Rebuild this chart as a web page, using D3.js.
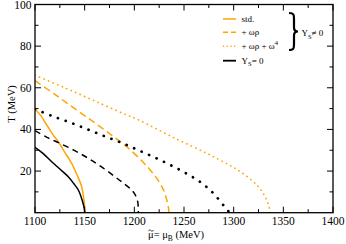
<!DOCTYPE html>
<html><head><meta charset="utf-8">
<script src="https://cdn.jsdelivr.net/npm/d3@7"></script>
<style>body{margin:0;background:#fff}svg{display:block}</style>
</head><body>
<script>
const xTicks = [1100,1150,1200,1250,1300,1350,1400];
const yTicks = [20,40,60,80,100];
const stdYs = [[1100,49.7],[1106,46.5],[1112,42],[1118,37.5],[1123.5,34.1],[1130,29],[1136.9,23.7],[1142,18.5],[1147,12.5],[1149.3,6],[1150.3,0]];
const stdY0 = [[1100,31.4],[1108,28.5],[1116.8,24.5],[1125,21],[1133.5,17.3],[1139,14],[1143.6,10.9],[1147.5,6],[1149.6,2],[1150,0]];
const wrY0 = [[1100,39.4],[1112,36.2],[1125.2,33.3],[1140,29.8],[1153.7,26.1],[1167,22],[1180.5,17.3],[1190,13.8],[1197.3,10.9],[1201.5,8],[1203.5,5],[1204,2],[1204,0]];
const wrYs = [[1100,63.5],[1120,56.8],[1140,50],[1160,43.2],[1177,37.3],[1192,31.8],[1208.4,24.5],[1217.4,19.7],[1224.1,15.4],[1229.1,11.2],[1232.5,6.4],[1234.6,1.5],[1234.8,0]];
const w4Y0 = [[1100,49.8],[1118,46.3],[1136.2,43.2],[1153,40],[1169.8,36.8],[1187,33.6],[1203.3,30.2],[1218.9,26.9],[1235,23.2],[1251,19.2],[1266.2,14.8],[1279.6,9.3],[1290.7,3],[1296,0]];
const w4Ys = [[1100,66],[1130,60],[1160,53.7],[1190,47.4],[1205,44.4],[1239,36.2],[1273,28.5],[1295,23],[1307,19.6],[1323.2,13.3],[1331.7,7.7],[1336,2.1],[1336.6,0]];
const legendLabels = ["std.","+ ωρ","+ ωρ + ω","Y"];

const W=346,H=244, L=35, R=333, T=4.5, B=212.7;
const ORANGE="#FFA500";
const FONT="'Liberation Serif','DejaVu Serif','Times New Roman',serif";
const svg=d3.select("body").append("svg").attr("width",W).attr("height",H).attr("font-family",FONT);
const x=d3.scaleLinear().domain([1100,1400]).range([L,R]);
const y=d3.scaleLinear().domain([0,100]).range([B,T]);

const line=d3.line().x(d=>x(d[0])).y(d=>y(d[1])).curve(d3.curveCatmullRom.alpha(0.5));
svg.append("clipPath").attr("id","c").append("rect").attr("x",L).attr("y",T).attr("width",R-L).attr("height",B-T);
const g=svg.append("g").attr("clip-path","url(#c)");
const series=[
 {d:w4Ys,c:ORANGE,w:1.7,da:"0.1,4.8",cap:"round"},
 {d:wrYs,c:ORANGE,w:1.5,da:"7,4"},
 {d:stdYs,c:ORANGE,w:1.5,da:null},
 {d:w4Y0,c:"#000",w:2.7,da:"0.1,8.1",cap:"round"},
 {d:wrY0,c:"#000",w:1.5,da:"6,4.5"},
 {d:stdY0,c:"#000",w:1.5,da:null}
];
series.forEach(s=>{
 g.append("path").attr("d",line(s.d)).attr("fill","none").attr("stroke",s.c).attr("stroke-width",s.w)
  .attr("stroke-dasharray",s.da).attr("stroke-linecap",s.cap||"butt");
});

svg.append("rect").attr("x",L).attr("y",T).attr("width",R-L).attr("height",B-T).attr("fill","none").attr("stroke","#000").attr("stroke-width",1.3);

const xMinor=d3.range(1125,1400,50);
const yMinor=d3.range(10,100,20);
const ax=svg.append("g");
function tk(x1,y1,x2,y2){ax.append("line").attr("x1",x1).attr("y1",y1).attr("x2",x2).attr("y2",y2).attr("stroke","#000").attr("stroke-width",1);}
xTicks.forEach(v=>{tk(x(v),B,x(v),B-6);tk(x(v),T,x(v),T+6);});
xMinor.forEach(v=>{tk(x(v),B,x(v),B-3.5);tk(x(v),T,x(v),T+3.5);});
yTicks.forEach(v=>{tk(L,y(v),L+6,y(v));tk(R,y(v),R-6,y(v));});
yMinor.forEach(v=>{tk(L,y(v),L+3.5,y(v));tk(R,y(v),R-3.5,y(v));});

xTicks.forEach(v=>svg.append("text").attr("x",x(v)).attr("y",225).attr("text-anchor","middle").attr("font-size",11.5).text(v));
yTicks.forEach(v=>svg.append("text").attr("x",31.5).attr("y",y(v)+4).attr("text-anchor","end").attr("font-size",11.5).text(v));

svg.append("text").attr("transform","translate(15,104) rotate(-90)").attr("text-anchor","middle").attr("font-size",10.5).text("T (MeV)");
const xl=svg.append("text").attr("x",148).attr("y",238).attr("font-size",10.5);
xl.append("tspan").text("μ= μ");
xl.append("tspan").attr("dy",2.5).attr("font-size",7.5).text("B");
xl.append("tspan").attr("dy",-2.5).text(" (MeV)");
// tilde accent over the first mu
svg.append("path").attr("d","M148.3,231.2 C149.3,229.8 150.3,229.8 151,230.6 C151.7,231.4 152.6,231.4 153.5,230")
 .attr("fill","none").attr("stroke","#000").attr("stroke-width",0.8);

const lg=svg.append("g");
const rows=[
 {yy:19,c:ORANGE,w:1.5,da:null},
 {yy:32.3,c:ORANGE,w:1.5,da:"5,3"},
 {yy:46.3,c:ORANGE,w:1.5,da:"1.2,2.5"},
 {yy:60.7,c:"#000",w:1.8,da:null}
];
rows.forEach(r=>{
 lg.append("line").attr("x1",223).attr("x2",236).attr("y1",r.yy).attr("y2",r.yy).attr("stroke",r.c).attr("stroke-width",r.w).attr("stroke-dasharray",r.da);
});
lg.append("text").attr("x",241.5).attr("y",22).attr("font-size",9).text(legendLabels[0]);
lg.append("text").attr("x",241.5).attr("y",35.3).attr("font-size",9).text(legendLabels[1]);
const t3=lg.append("text").attr("x",241.5).attr("y",49.3).attr("font-size",9);
t3.append("tspan").text(legendLabels[2]);
t3.append("tspan").attr("dy",-4).attr("font-size",6.5).text("4");
const t4=lg.append("text").attr("x",241.5).attr("y",63.7).attr("font-size",9);
t4.append("tspan").text(legendLabels[3]);
t4.append("tspan").attr("dy",2.5).attr("font-size",6.5).text("S");
t4.append("tspan").attr("dy",-2.5).text("= 0");

const bx=289, by0=13, by1=50, bm=(by0+by1)/2;
lg.append("path").attr("d",
 `M${bx},${by0} C${bx+5},${by0} ${bx+5},${by0+2} ${bx+5},${by0+6} L${bx+5},${bm-4} C${bx+5},${bm-1} ${bx+6},${bm} ${bx+9},${bm} C${bx+6},${bm} ${bx+5},${bm+1} ${bx+5},${bm+4} L${bx+5},${by1-6} C${bx+5},${by1-2} ${bx+5},${by1} ${bx},${by1}`)
 .attr("fill","none").attr("stroke","#000").attr("stroke-width",2.2);
const t5=lg.append("text").attr("x",301.5).attr("y",36).attr("font-size",9);
t5.append("tspan").text("Y");
t5.append("tspan").attr("dy",2.5).attr("font-size",6.5).text("S");
t5.append("tspan").attr("dy",-2.5).text("≠ 0");
</script>
</body></html>
